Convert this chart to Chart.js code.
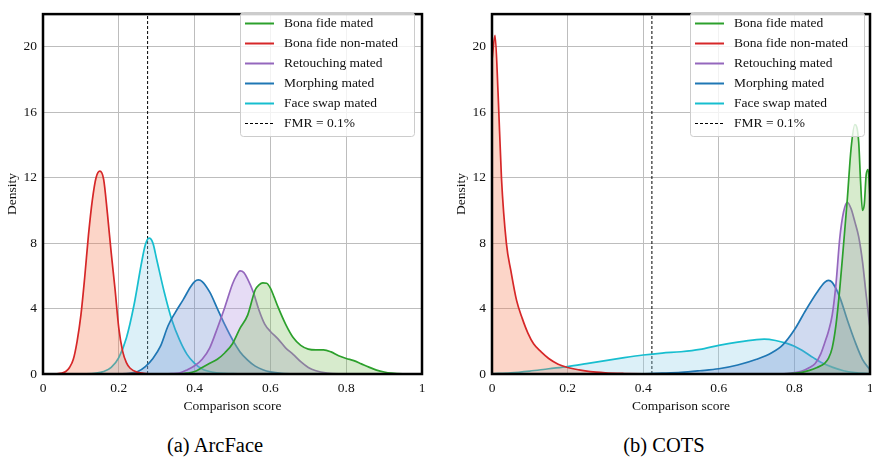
<!DOCTYPE html>
<html>
<head>
<meta charset="utf-8">
<script src="https://cdn.jsdelivr.net/npm/chart.js@4.4.0/dist/chart.umd.min.js"></script>
<style>
  html, body { margin: 0; padding: 0; background: #fff; }
  body { width: 872px; height: 459px; position: relative; overflow: hidden;
         font-family: 'Liberation Serif', 'Times New Roman', serif; }
  canvas { position: absolute; top: 0; }
  #c1 { left: 0; }
  #c2 { left: 436px; }
  .cap { position: absolute; top: 433px; font-size: 20.5px; line-height: 24px; color: #000;
         transform: translateX(-50%); white-space: nowrap; }
</style>
</head>
<body>
<canvas id="c1" width="436" height="420"></canvas>
<canvas id="c2" width="448" height="420"></canvas>
<div class="cap" style="left:215px">(a) ArcFace</div>
<div class="cap" style="left:664px">(b) COTS</div>
<script>
// --- data -------------------------------------------------------------------
const seriesNames = ['Bona fide mated', 'Bona fide non-mated', 'Retouching mated', 'Morphing mated', 'Face swap mated'];
const fmrLabel = 'FMR = 0.1%';
const xTicks = [0, 0.2, 0.4, 0.6, 0.8, 1];
const yTicks = [0, 4, 8, 12, 16, 20];
const yMax = 22;

// ArcFace (score, density)
const arcMated = [[0.36,0],[0.38,0.05],[0.40,0.15],[0.42,0.4],[0.44,0.65],[0.46,0.9],[0.48,1.3],[0.50,1.85],[0.52,2.8],[0.54,3.6],[0.56,5.15],[0.57,5.45],[0.58,5.57],[0.59,5.55],[0.60,5.25],[0.61,4.7],[0.62,4.1],[0.64,3.05],[0.66,2.23],[0.68,1.75],[0.70,1.52],[0.72,1.47],[0.74,1.47],[0.76,1.35],[0.78,1.12],[0.80,0.95],[0.82,0.82],[0.84,0.62],[0.86,0.42],[0.88,0.24],[0.90,0.12],[0.92,0.05],[0.95,0.01],[1.0,0]];
const arcNonMated = [[0.03,0],[0.05,0.05],[0.06,0.15],[0.07,0.4],[0.08,0.9],[0.09,2.0],[0.10,3.6],[0.11,5.9],[0.12,8.5],[0.13,10.6],[0.14,12.0],[0.15,12.4],[0.16,11.9],[0.17,9.8],[0.18,7.4],[0.19,5.2],[0.20,2.8],[0.21,1.4],[0.22,0.7],[0.23,0.35],[0.25,0.1],[0.27,0.03],[0.30,0]];
const arcRetouch = [[0.30,0],[0.34,0.02],[0.36,0.06],[0.38,0.25],[0.40,0.5],[0.42,0.9],[0.44,1.6],[0.46,2.8],[0.48,4.1],[0.50,5.5],[0.51,6.0],[0.52,6.3],[0.53,6.2],[0.54,5.8],[0.555,5.0],[0.57,3.9],[0.585,3.05],[0.60,2.6],[0.62,2.15],[0.64,1.6],[0.66,1.2],[0.68,0.75],[0.70,0.4],[0.72,0.2],[0.75,0.06],[0.78,0.01],[0.82,0]];
const arcMorph = [[0.18,0],[0.22,0.03],[0.25,0.15],[0.27,0.45],[0.29,0.95],[0.31,1.7],[0.33,2.95],[0.35,3.8],[0.37,4.55],[0.39,5.35],[0.40,5.65],[0.41,5.75],[0.42,5.65],[0.44,5.0],[0.46,4.0],[0.48,3.0],[0.50,2.1],[0.52,1.35],[0.54,0.85],[0.56,0.48],[0.58,0.26],[0.60,0.13],[0.63,0.04],[0.68,0]];
const arcSwap = [[0.10,0],[0.14,0.05],[0.16,0.15],[0.18,0.4],[0.20,1.0],[0.22,2.2],[0.24,4.2],[0.26,6.8],[0.27,7.9],[0.28,8.3],[0.29,8.0],[0.30,7.0],[0.32,5.0],[0.34,3.3],[0.36,2.1],[0.38,1.2],[0.40,0.65],[0.42,0.3],[0.45,0.1],[0.50,0.02],[0.55,0]];
const arcFmr = 0.276;

// COTS (score, density)
const cotsMated = [[0.76,0],[0.80,0.04],[0.82,0.1],[0.84,0.22],[0.86,0.4],[0.88,0.65],[0.89,0.95],[0.90,1.6],[0.91,3.0],[0.92,5.2],[0.93,7.9],[0.94,10.7],[0.95,13.8],[0.96,15.25],[0.97,14.2],[0.975,11.8],[0.98,10.0],[0.985,10.4],[0.99,12.2],[0.995,12.5],[1.0,10.8]];
const cotsNonMated = [[0,19.2],[0.008,20.7],[0.016,17.2],[0.025,12.0],[0.038,8.0],[0.05,6.3],[0.065,4.5],[0.08,3.4],[0.095,2.5],[0.11,1.85],[0.13,1.35],[0.15,0.95],[0.175,0.6],[0.2,0.4],[0.23,0.25],[0.26,0.14],[0.3,0.07],[0.35,0.03],[0.4,0.01],[0.45,0]];
const cotsRetouch = [[0.74,0],[0.78,0.03],[0.80,0.08],[0.82,0.18],[0.84,0.4],[0.855,0.64],[0.87,1.25],[0.88,1.9],[0.89,2.6],[0.90,3.6],[0.91,5.5],[0.92,8.3],[0.93,9.9],[0.94,10.5],[0.95,10.1],[0.96,9.3],[0.97,8.4],[0.98,6.9],[0.99,4.8],[1.0,2.8]];
const cotsMorph = [[0.38,0],[0.45,0.05],[0.50,0.1],[0.55,0.2],[0.60,0.32],[0.65,0.55],[0.70,0.9],[0.74,1.3],[0.77,1.8],[0.80,2.7],[0.83,3.9],[0.86,5.0],[0.88,5.6],[0.89,5.72],[0.90,5.6],[0.92,4.7],[0.94,3.3],[0.96,2.0],[0.98,0.9],[1.0,0.25]];
const cotsSwap = [[0,0.02],[0.05,0.07],[0.1,0.18],[0.15,0.32],[0.2,0.45],[0.25,0.63],[0.3,0.82],[0.35,1.0],[0.4,1.16],[0.45,1.28],[0.5,1.36],[0.55,1.5],[0.6,1.75],[0.65,1.95],[0.7,2.1],[0.72,2.13],[0.75,2.05],[0.78,1.87],[0.8,1.7],[0.82,1.45],[0.85,1.0],[0.87,0.72],[0.9,0.42],[0.93,0.2],[0.96,0.09],[1.0,0.02]];
const cotsFmr = 0.423;

// --- styling ----------------------------------------------------------------
const lineColors = ['#2ca02c', '#d62728', '#9467bd', '#1f77b4', '#17becf'];
const fillColors = ['rgba(122,188,88,0.3)', 'rgba(245,115,72,0.3)', 'rgba(172,138,222,0.3)', 'rgba(98,132,205,0.3)', 'rgba(138,205,232,0.3)'];
const FONT = "'Liberation Serif', 'Times New Roman', serif";

Chart.defaults.font.family = FONT;
Chart.defaults.font.size = 13.5;
Chart.defaults.color = '#111';

// black frame around the plot area (drawn on top)
const framePlugin = {
  id: 'frame',
  afterDraw(chart) {
    const a = chart.chartArea, ctx = chart.ctx;
    ctx.save();
    ctx.strokeStyle = '#000';
    ctx.lineWidth = 2.5;
    ctx.strokeRect(a.left, a.top, a.right - a.left, a.bottom - a.top);
    ctx.restore();
  }
};

// legend box in the upper right of the plot
const boxLegendPlugin = {
  id: 'boxLegend',
  afterDraw(chart, args, opts) {
    const ctx = chart.ctx;
    const x = opts.x, y = opts.y, w = opts.w, h = opts.h;
    ctx.save();
    ctx.beginPath();
    ctx.roundRect(x + 0.5, y + 0.5, w, h, 3);
    ctx.fillStyle = 'rgba(255,255,255,0.8)';
    ctx.fill();
    ctx.strokeStyle = '#cccccc';
    ctx.lineWidth = 1;
    ctx.stroke();
    ctx.font = '13.5px ' + FONT;
    ctx.textBaseline = 'middle';
    chart.data.datasets.forEach((ds, i) => {
      const ry = y + 11.5 + i * 20;
      ctx.beginPath();
      ctx.moveTo(x + 5, ry);
      ctx.lineTo(x + 34, ry);
      ctx.strokeStyle = ds.borderColor;
      if (ds.borderDash) { ctx.setLineDash([3, 2]); ctx.lineWidth = 1; }
      else { ctx.setLineDash([]); ctx.lineWidth = 2; }
      ctx.stroke();
      ctx.fillStyle = '#111';
      ctx.fillText(ds.label, x + 44, ry);
    });
    ctx.restore();
  }
};

function makeChart(id, series, fmr, g) {
  const datasets = series.map((pts, i) => ({
    label: seriesNames[i],
    data: pts.map(p => ({ x: p[0], y: p[1] })),
    borderColor: lineColors[i],
    backgroundColor: fillColors[i],
    borderWidth: 1.7,
    pointRadius: 0,
    cubicInterpolationMode: 'monotone',
    fill: 'origin'
  }));
  datasets.push({
    label: fmrLabel,
    data: [{ x: fmr, y: 0 }, { x: fmr, y: yMax }],
    borderColor: '#000',
    borderWidth: 1,
    borderDash: [3, 2],
    pointRadius: 0,
    fill: false
  });

  return new Chart(document.getElementById(id), {
    type: 'line',
    data: { datasets },
    options: {
      responsive: false,
      animation: false,
      devicePixelRatio: 1,
      layout: { padding: { top: 6, right: g.padRight, left: 0, bottom: 0 } },
      plugins: {
        legend: { display: false },
        tooltip: { enabled: false },
        boxLegend: g.legend
      },
      scales: {
        x: {
          type: 'linear', min: 0, max: 1,
          afterBuildTicks: s => { s.ticks = xTicks.map(v => ({ value: v })); },
          afterFit: s => { s.height = 46; },
          ticks: { padding: 6, maxRotation: 0, callback: v => String(+v.toFixed(1)) },
          grid: { color: '#bdbdbd', lineWidth: 1, drawTicks: false },
          border: { display: false },
          title: { display: true, text: 'Comparison score', padding: { top: 0, bottom: 5 } }
        },
        y: {
          min: 0, max: yMax,
          afterBuildTicks: s => { s.ticks = yTicks.map(v => ({ value: v })); },
          afterFit: s => { s.width = g.yWidth; },
          ticks: { padding: 6 },
          grid: { color: '#bdbdbd', lineWidth: 1, drawTicks: false },
          border: { display: false },
          title: { display: true, text: 'Density', padding: { top: g.yTitlePad, bottom: 0 } }
        }
      }
    },
    plugins: [framePlugin, boxLegendPlugin]
  });
}

makeChart('c1', [arcMated, arcNonMated, arcRetouch, arcMorph, arcSwap], arcFmr,
  { padRight: 14, yWidth: 43, yTitlePad: 4, legend: { x: 240, y: 12, w: 174, h: 124 } });
makeChart('c2', [cotsMated, cotsNonMated, cotsRetouch, cotsMorph, cotsSwap], cotsFmr,
  { padRight: 14, yWidth: 56, yTitlePad: 17, legend: { x: 254, y: 12, w: 174, h: 124 } });
</script>
</body>
</html>
